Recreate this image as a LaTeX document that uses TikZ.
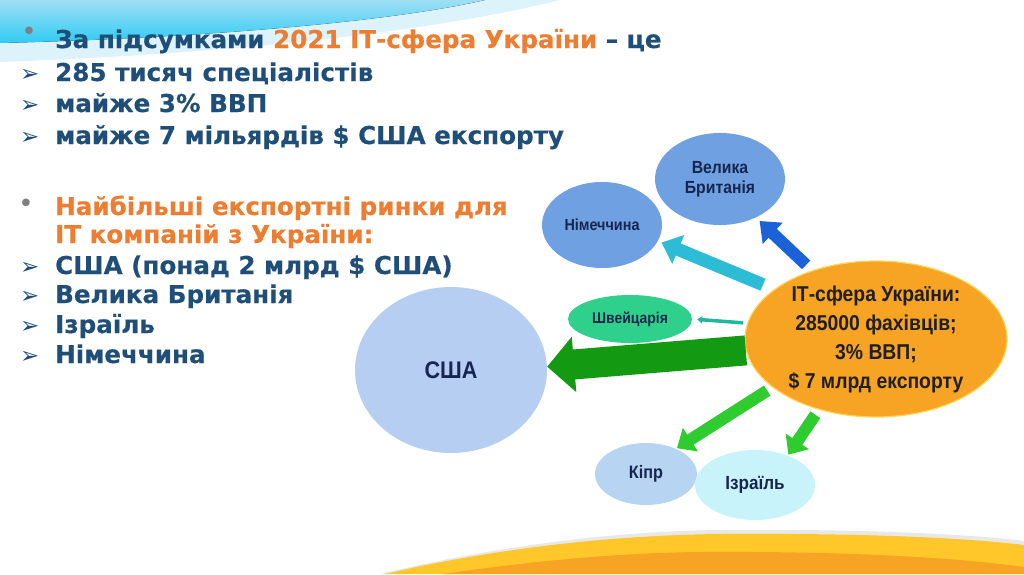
\documentclass[tikz,border=0pt]{standalone}
\usepackage{fontspec}
\setmainfont{DejaVu Sans}[BoldFeatures={FakeBold=0.35}]
\newfontfamily\labf[FakeStretch=0.9]{Liberation Sans}
\newfontfamily\dejavu{DejaVu Sans}
\usetikzlibrary{arrows.meta,shapes.geometric}
\definecolor{navy}{HTML}{1F4E79}
\definecolor{orng}{HTML}{ED7D31}
\definecolor{labtxt}{HTML}{17264F}
\definecolor{midblue}{HTML}{6FA0E2}
\definecolor{usablue}{HTML}{B5CEF2}
\definecolor{cypblue}{HTML}{B7D4F3}
\definecolor{isrcyan}{HTML}{C8F3FA}
\definecolor{swgreen}{HTML}{2FD08C}
\definecolor{hubor}{HTML}{F7A323}
\definecolor{hubrim}{HTML}{FFD65A}
\definecolor{swyellow}{HTML}{FFC72A}
\definecolor{swtop}{HTML}{9FDFF4}
\definecolor{swmid}{HTML}{2FCBF3}
\definecolor{swpale}{HTML}{DDF3FB}
\definecolor{arblue}{HTML}{1B62D8}
\definecolor{arcyan}{HTML}{2CBCD6}
\definecolor{ardkgreen}{HTML}{139A12}
\definecolor{argreen}{HTML}{2ECC2E}
\definecolor{arteal}{HTML}{1FB89E}
\begin{document}
\begin{tikzpicture}[x=1pt,y=-1pt,
  maintxt/.style={font=\bfseries\fontsize{24.6}{28}\selectfont, text=navy, anchor=base west, inner sep=0pt},
  dotbul/.style={font=\dejavu\fontsize{26}{28}\selectfont, text=gray, inner sep=0pt},
  arrbul/.style={font=\dejavu\fontsize{23}{26}\selectfont, text=navy, anchor=base west, inner sep=0pt},
  ell/.style={ellipse, inner sep=0pt, align=center, text=labtxt},
  lab/.style 2 args={font=\labf\bfseries\fontsize{#1}{#2}\selectfont},
  blockarr/.style n args={4}{draw=#1, line width=#2, -{Triangle[width=#3,length=#4]}}
]
\useasboundingbox (0,0) rectangle (1024,574);

% top swoosh
\fill[swpale] (0,0) -- (560,0) .. controls (420,35) and (200,55) .. (0,62) -- cycle;
\fill[top color=swtop, bottom color=swmid] (0,0) -- (485,0) .. controls (390,22) and (200,38) .. (0,43) -- cycle;

% bottom swoosh
\fill[gray!18] (380,574) .. controls (500,545) and (620,531) .. (720,530) .. controls (850,529) and (960,533) .. (1024,541) -- (1024,574) -- cycle;
\fill[swyellow] (385,574) .. controls (500,547) and (620,535) .. (720,534) .. controls (850,533) and (960,537) .. (1024,545) -- (1024,574) -- cycle;
\fill[hubor] (443,574) .. controls (540,560) and (620,553) .. (700,552) .. controls (850,551) and (960,558) .. (1024,567) -- (1024,574) -- cycle;

% left text block
\node[dotbul] (b1) at (29,34) {•};
\node[maintxt] (t1) at (55,48) {За підсумками \textcolor{orng}{2021 ІТ-сфера України} – це};
\node[arrbul] (a2) at (20,81) {➢};
\node[maintxt] (t2) at (55,81) {285 тисяч спеціалістів};
\node[arrbul] (a3) at (20,112) {➢};
\node[maintxt] (t3) at (55,112) {майже 3\% ВВП};
\node[arrbul] (a4) at (20,144) {➢};
\node[maintxt] (t4) at (55,144) {майже 7 мільярдів \$ США експорту};

\node[dotbul] (b5) at (26,206) {•};
\node[maintxt, text=orng] (t5) at (55,215) {Найбільші експортні ринки для};
\node[maintxt, text=orng] (t6) at (55,243) {ІТ компаній з України:};
\node[arrbul] (a7) at (20,274) {➢};
\node[maintxt] (t7) at (55,274) {США (понад 2 млрд \$ США)};
\node[arrbul] (a8) at (20,303) {➢};
\node[maintxt] (t8) at (55,303) {Велика Британія};
\node[arrbul] (a9) at (20,333) {➢};
\node[maintxt] (t9) at (55,333) {Ізраїль};
\node[arrbul] (a10) at (20,363) {➢};
\node[maintxt] (t10) at (55,363) {Німеччина};

% ellipses
\node[ell, fill=midblue, minimum width=130pt, minimum height=92pt, lab={17.5}{20}] (uk) at (720,179) {Велика\\Британія};
\node[ell, fill=midblue, minimum width=120pt, minimum height=86pt, lab={16}{19}] (ger) at (602,225) {Німеччина};
\node[ell, fill=swgreen, minimum width=124pt, minimum height=48pt, lab={15.5}{18}] (sw) at (630,319) {Швейцарія};
\node[ell, fill=usablue, minimum width=192pt, minimum height=166pt, lab={24}{28}] (usa) at (451,370) {США};
\node[ell, fill=cypblue, minimum width=102pt, minimum height=62pt, lab={18}{21}] (cyp) at (646,474) {Кіпр};
\node[ell, fill=isrcyan, minimum width=120pt, minimum height=70pt, lab={19}{22}] (isr) at (755,485) {Ізраїль};
\node[ell, fill=hubor, draw=hubrim, line width=1.2pt, minimum width=262pt, minimum height=156pt, lab={21.5}{29}, text=black!88] (hub) at (876,339) {ІТ-сфера України:\\285000 фахівців;\\3\% ВВП;\\\$ 7 млрд експорту};

% arrows
\draw[blockarr={arblue}{12pt}{28pt}{18pt}, shorten <=8pt, shorten >=5pt] (hub.133) -- (uk.-47);
\draw[blockarr={arcyan}{13pt}{30pt}{18pt}, shorten <=12pt, shorten >=4pt] (hub.154) -- (ger.-16);
\draw[blockarr={arteal}{3.5pt}{7pt}{5pt}, shorten <=4pt, shorten >=5pt] (hub.173) -- (sw.0);
\draw[blockarr={ardkgreen}{30pt}{54pt}{27pt}] (hub.185) -- (usa.2);
\draw[blockarr={argreen}{12pt}{27pt}{16pt}, shorten <=6pt, shorten >=1pt] (hub.205) -- (cyp.40);
\draw[blockarr={argreen}{12pt}{27pt}{16pt}, shorten <=6pt, shorten >=1pt] (hub.231) -- (isr.42);
\end{tikzpicture}
\end{document}
